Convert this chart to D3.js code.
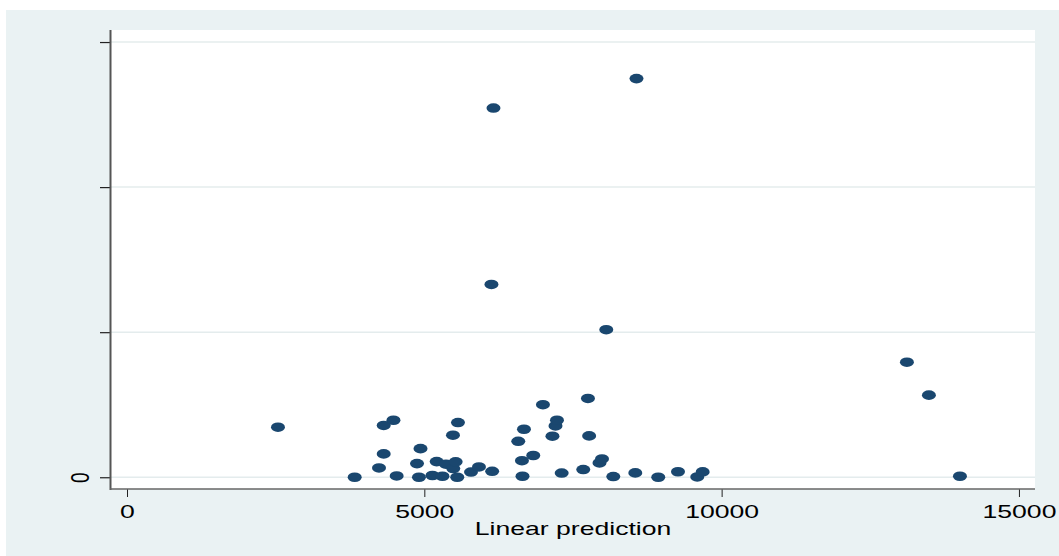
<!DOCTYPE html>
<html>
<head>
<meta charset="utf-8">
<script src="https://cdn.jsdelivr.net/npm/d3@7"></script>
<style>
  html, body { margin: 0; padding: 0; background: #ffffff; }
  svg { display: block; }
  text { font-family: "Liberation Sans", Arial, sans-serif; fill: #000; }
</style>
</head>
<body>
<div id="chart"></div>
<script>
(function() {
  'use strict';

  // Scatter values (x = linear prediction, y in tick units)
  var predX = [2539, 3829, 4238, 4317, 4481, 4317, 4535, 4936, 4877, 4910,
               5137, 5208, 5305, 5364, 5487, 5527, 5554, 5482, 5566, 5785,
               5919, 6141, 6651, 6642, 6832, 6580, 6676, 6995, 7155, 7206,
               7231, 7310, 7752, 7772, 7673, 7946, 7988, 8178, 8548, 8934,
               9266, 9590, 9681, 6129, 6163, 8060, 8568, 13116, 13486, 14008];
  var respY = [0.345, 0.000, 0.064, 0.357, 0.393, 0.161, 0.009, 0.197, 0.094, 0.000,
               0.012, 0.108, 0.007, 0.090, 0.060, 0.106, 0.000, 0.290, 0.377, 0.036,
               0.071, 0.041, 0.007, 0.114, 0.150, 0.248, 0.331, 0.500, 0.283, 0.354,
               0.393, 0.029, 0.543, 0.285, 0.053, 0.099, 0.126, 0.005, 0.030, 0.000,
               0.038, 0.002, 0.037, 1.329, 2.545, 1.017, 2.748, 0.793, 0.566, 0.007];

  var xTicks = [0, 5000, 10000, 15000];
  var yTicks = [0, 1, 2, 3];
  var yTickLabels = ['0', '', '', ''];
  var xTitle = 'Linear prediction';

  var width = 1059, height = 556;
  var plot = { left: 110, right: 1035, top: 30, bottom: 489 };
  var stretch = 'scale(1.4,1)';   // the picture is wider than tall glyphs suggest
  var navy = '#1a476f';
  var bg = '#eaf2f3';

  var svg = d3.select('#chart').append('svg')
    .attr('width', width)
    .attr('height', height);

  // outer graph region
  svg.append('rect')
    .attr('x', 6).attr('y', 10)
    .attr('width', width - 6).attr('height', height - 10)
    .attr('fill', bg);

  // plot region
  svg.append('rect')
    .attr('x', plot.left).attr('y', plot.top)
    .attr('width', plot.right - plot.left).attr('height', plot.bottom - plot.top)
    .attr('fill', '#ffffff');

  var x = d3.scaleLinear().domain([-286, 15270]).range([plot.left, plot.right]);
  var y = d3.scaleLinear().domain([-0.081, 3.083]).range([plot.bottom, plot.top]);

  // gridlines
  svg.append('g').selectAll('line')
    .data(yTicks)
    .enter().append('line')
    .attr('x1', plot.left).attr('x2', plot.right)
    .attr('y1', function(d) { return y(d); })
    .attr('y2', function(d) { return y(d); })
    .attr('stroke', '#e4eced')
    .attr('stroke-width', 1.5);

  // points
  var pts = predX.map(function(v, i) { return { x: v, y: respY[i] }; });
  svg.append('g').selectAll('ellipse')
    .data(pts)
    .enter().append('ellipse')
    .attr('cx', function(d) { return x(d.x); })
    .attr('cy', function(d) { return y(d.y); })
    .attr('rx', 7)
    .attr('ry', 4.8)
    .attr('fill', navy);

  // x axis
  var xAxis = svg.append('g')
    .attr('transform', 'translate(0,' + plot.bottom + ')')
    .call(d3.axisBottom(x).tickValues(xTicks).tickSize(8).tickFormat(d3.format('d')));
  xAxis.select('.domain').remove();
  xAxis.selectAll('.tick line').attr('stroke', '#222').attr('stroke-width', 1);
  xAxis.selectAll('.tick text')
    .attr('y', 29).attr('dy', 0)
    .attr('font-size', 19)
    .attr('transform', stretch);

  // y axis
  var yAxis = svg.append('g')
    .attr('transform', 'translate(' + plot.left + ',0)')
    .call(d3.axisLeft(y).tickValues(yTicks).tickSize(10)
      .tickFormat(function(d, i) { return yTickLabels[i]; }));
  yAxis.select('.domain').remove();
  yAxis.selectAll('.tick line').attr('stroke', '#222').attr('stroke-width', 1.2);
  yAxis.selectAll('.tick text')
    .attr('x', 0).attr('dy', 0)
    .attr('text-anchor', 'middle')
    .attr('font-size', 19)
    .attr('transform', 'translate(-21,0) ' + stretch + ' rotate(-90)');

  // axis lines
  svg.append('line')
    .attr('x1', plot.left + 0.5).attr('x2', plot.left + 0.5)
    .attr('y1', plot.top).attr('y2', plot.bottom + 1)
    .attr('stroke', '#555').attr('stroke-width', 2);
  svg.append('line')
    .attr('x1', plot.left).attr('x2', plot.right)
    .attr('y1', plot.bottom).attr('y2', plot.bottom)
    .attr('stroke', '#666').attr('stroke-width', 1.5);

  // x title
  svg.append('text')
    .attr('transform', 'translate(' + ((plot.left + plot.right) / 2 + 0.5) + ',535) ' + stretch)
    .attr('text-anchor', 'middle')
    .attr('font-size', 19)
    .text(xTitle);
})();
</script>
</body>
</html>
